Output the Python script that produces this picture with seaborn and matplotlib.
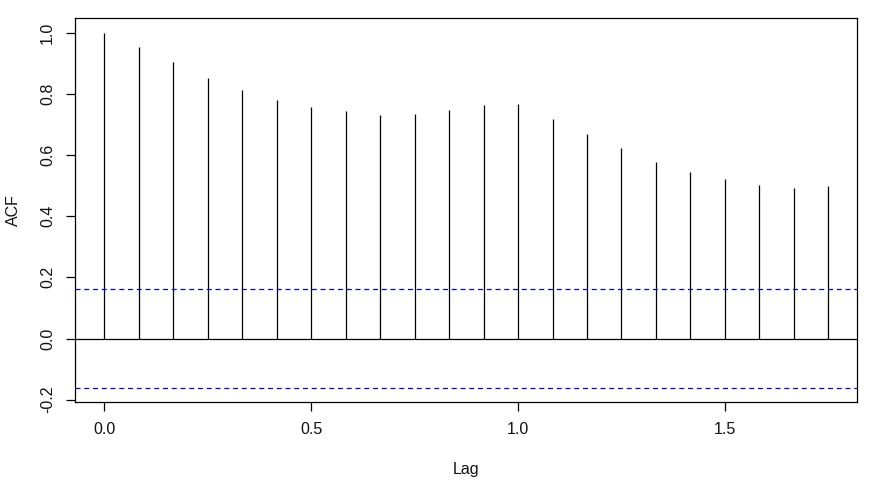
import numpy as np
import matplotlib
matplotlib.use("Agg")
import matplotlib.pyplot as plt
import seaborn as sns

# ---- data ----
lag_months = [0, 1, 2, 3, 4, 5, 6, 7, 8, 9, 10, 11, 12, 13, 14, 15, 16, 17, 18, 19, 20, 21]
frequency = 12
acf_values = [1.000, 0.954, 0.903, 0.853, 0.812, 0.781, 0.758, 0.742, 0.729, 0.735, 0.748,
              0.762, 0.765, 0.719, 0.667, 0.621, 0.578, 0.545, 0.522, 0.503, 0.493, 0.499]
conf_limit = 0.162
x_ticks = [0.0, 0.5, 1.0, 1.5]
x_tick_labels = ["0.0", "0.5", "1.0", "1.5"]
y_ticks = [-0.2, 0.0, 0.2, 0.4, 0.6, 0.8, 1.0]
y_tick_labels = ["-0.2", "0.0", "0.2", "0.4", "0.6", "0.8", "1.0"]

sns.set_style("white")
plt.rcParams['font.family'] = ['Liberation Sans', 'DejaVu Sans']

lags = np.array(lag_months) / frequency

fig = plt.figure(figsize=(8.7, 4.96), dpi=100)
ax = fig.add_axes([0.0866, 0.1889, 0.8988, 0.7742])

ax.vlines(lags, 0, acf_values, colors="black", linewidth=0.9)
ax.axhline(0, color="black", linewidth=0.9)
for v in (conf_limit, -conf_limit):
    ax.axhline(v, color="#0a0ab4", linewidth=0.9, linestyle=(0, (4, 3)))

xr = lags.max() - lags.min()
ax.set_xlim(lags.min() - 0.04 * xr, lags.max() + 0.04 * xr)
ymin, ymax = -conf_limit, 1.0
yr = ymax - ymin
ax.set_ylim(ymin - 0.04 * yr, ymax + 0.04 * yr)

ax.set_xticks(x_ticks)
ax.set_xticklabels(x_tick_labels)
ax.set_yticks(y_ticks)
ax.set_yticklabels(y_tick_labels, rotation=90, va="center")

ax.tick_params(axis="both", which="major", direction="out", length=6.5, width=0.9,
               color="black", labelsize=11.5, labelcolor="#111111", pad=8,
               bottom=True, left=True)
for sp in ax.spines.values():
    sp.set_visible(True)
    sp.set_color("black")
    sp.set_linewidth(0.9)

ax.set_xlabel("Lag", fontsize=11.5, color="#111111", labelpad=18)
ax.set_ylabel("ACF", fontsize=11.5, color="#111111", labelpad=14)

fig.savefig("out.png", dpi=100)
